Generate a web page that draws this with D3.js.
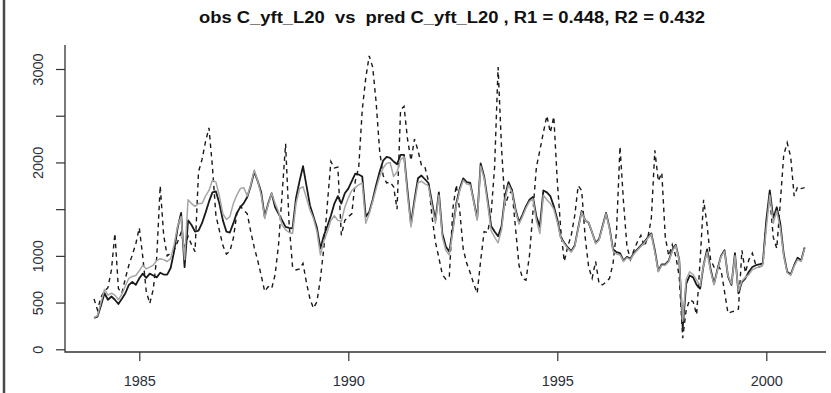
<!DOCTYPE html>
<html>
<head>
<meta charset="utf-8">
<script src="https://cdn.jsdelivr.net/npm/d3@7"></script>
<style>
  html, body { margin: 0; padding: 0; background: #fff; }
  svg { display: block; font-family: "Liberation Sans", Arial, sans-serif; }
</style>
</head>
<body>
<svg id="chart" width="831" height="393"></svg>
<script>
// Monthly series, first month = Dec 1983
const startYear = 1983 + 11 / 12;

const obs = [
  540, 420, 560, 620, 660, 850, 1240, 650, 600, 760, 900, 1010, 1130,
  1300, 990, 620, 490, 640, 980, 1750, 1220, 1000, 1030, 1060, 1150,
  1250, 1100, 1210, 1120, 1045, 1900, 2030, 2220, 2370, 1950, 1430, 1270,
  1110, 1020, 1050, 1190, 1450, 1530, 1490, 1450, 1260, 1090, 950, 790,
  620, 670, 650, 800, 1130, 1660, 2200, 1350, 880, 850, 860, 920,
  710, 540, 440, 510, 760, 1090, 1560, 2010, 1940, 1950, 1220, 1380,
  1420, 1450, 1800, 1950, 2560, 2900, 3140, 3020, 2640, 2120, 1860, 1780,
  1790, 1740, 1500, 2560, 2600, 2250, 2020, 2250, 2130, 1970, 1950, 1800,
  1430, 1150, 980, 800, 750, 780, 1500, 1760, 1480, 1070, 920, 820,
  700, 600, 950, 1260, 1250, 1450, 1950, 3020, 2150, 1540, 1650, 1700,
  1300, 900, 760, 740, 1000, 1470, 1950, 2130, 2320, 2500, 2320, 2490,
  1800, 1280, 940, 1100, 1220, 1430, 1750, 1700, 1200, 880, 760, 940,
  700, 690, 720, 760, 920, 1260, 2170, 1580, 1100, 960, 1060, 1150,
  1220, 1100, 1200, 1400, 2130, 1800, 1890, 1200, 1000, 1120, 1000, 780,
  120, 420, 530, 510, 370, 950, 1600, 1330, 960, 880, 900, 850,
  620, 385, 400, 410, 430, 1060, 820, 960, 1030, 900, 880, 900,
  1350, 1620, 1200, 1080, 1560, 2080, 2210, 2060, 1640, 1740, 1720, 1730
];

const pred1 = [
  335, 350, 470, 600, 530, 565, 530, 485, 540, 600, 690, 720, 690,
  760, 810, 765, 810, 790, 770, 820, 800, 800, 870, 1050, 1300,
  1460, 880, 1380, 1330, 1260, 1270, 1350, 1460, 1580, 1680, 1690, 1560,
  1380, 1260, 1250, 1350, 1460, 1520, 1565, 1630, 1750, 1900, 1800, 1680,
  1420, 1560, 1670, 1520, 1450, 1380, 1310, 1300, 1295, 1620, 1800, 1960,
  1750, 1540, 1420, 1300, 1080, 1220, 1320, 1430, 1560, 1640, 1560, 1670,
  1720, 1800, 1880, 1870, 1850, 1420, 1470, 1600, 1760, 1900, 2020, 2060,
  2050, 2010, 1980, 2080, 2080, 1700, 1340, 1600, 1830, 1860, 1820, 1780,
  1580, 1380, 1680, 1240, 1100, 1045, 1290, 1560, 1720, 1830, 1790, 1780,
  1590, 1400, 1990, 1850, 1600, 1320, 1260, 1210, 1320, 1640, 1790, 1700,
  1500, 1360, 1440, 1530, 1600, 1630, 1420, 1310, 1700, 1680, 1640, 1530,
  1390, 1200, 1140, 1090, 1050, 1110, 1300, 1480, 1380, 1355, 1250, 1140,
  1180, 1320, 1460, 1300, 1070, 1040, 1030, 950, 990, 970, 1030, 1070,
  1110, 1150, 1200, 1240, 1060, 840, 910, 910, 950, 1060, 1120, 960,
  230, 700, 790, 770, 690, 650, 900, 1070, 860, 700, 860, 1000,
  1060, 780, 690, 1030, 600, 720, 760, 830, 880, 900, 910, 920,
  1380, 1700, 1400, 1520, 1350, 1020, 830, 800, 900, 980, 950, 1090
];

const pred2 = [
  340, 360, 500, 640, 580, 600, 580, 530, 590, 680, 760, 780, 790,
  840, 900, 860, 880, 900, 950, 970, 960, 940, 970, 1120, 1320,
  1420, 960, 1600, 1560, 1530, 1560, 1560, 1640, 1700, 1810, 1790, 1640,
  1450, 1390, 1420, 1560, 1650, 1720, 1730, 1640, 1760, 1920, 1800, 1650,
  1400, 1550, 1670, 1560, 1470, 1330, 1280, 1250, 1240, 1560, 1720, 1740,
  1620, 1490, 1400, 1260, 1010, 1160, 1260, 1380, 1430, 1380, 1370, 1520,
  1620, 1700, 1730, 1760, 1780, 1350, 1450, 1580, 1720, 1850, 1940, 1990,
  2000, 1850, 1900, 2030, 2060, 1650, 1310, 1560, 1780, 1800, 1770, 1750,
  1540, 1350, 1650, 1200, 1060, 1010, 1260, 1540, 1700, 1810, 1770, 1760,
  1580, 1380, 1960, 1830, 1560, 1270, 1200, 1140, 1280, 1610, 1760, 1680,
  1480, 1340, 1420, 1510, 1580, 1610, 1380, 1240, 1650, 1600, 1560, 1500,
  1360, 1190, 1130, 1080, 1040, 1100, 1290, 1470, 1380, 1360, 1250, 1130,
  1170, 1310, 1450, 1290, 1050, 1020, 1010, 940, 980, 960, 1020, 1060,
  1100, 1140, 1190, 1230, 1040, 830, 900, 900, 940, 1050, 1110, 950,
  300, 750, 830, 800, 740, 680, 900, 1040, 840, 690, 850, 990,
  1050, 790, 700, 1000, 620, 730, 770, 800, 850, 870, 880, 900,
  1300, 1650, 1350, 1480, 1300, 1000, 820, 790, 890, 960, 940, 1080
];

const yTicks = [0, 500, 1000, 1500, 2000, 2500, 3000];
const yLabels = [0, 500, 1000, 2000, 3000];
const xTicks = [1985, 1990, 1995, 2000];
const titleText = "obs C_yft_L20  vs  pred C_yft_L20 , R1 = 0.448, R2 = 0.432";

const svg = d3.select("#chart");
const plot = { left: 65, right: 826, top: 45, bottom: 352 };

const x = d3.scaleLinear().domain([1985, 2000]).range([139.3, 766.3]);
const y = d3.scaleLinear().domain([0, 3000]).range([349.3, 69]);

svg.append("rect").attr("width", 831).attr("height", 393).attr("fill", "#fff");

// outer frame edge on the left
svg.append("line")
  .attr("x1", 4).attr("x2", 4).attr("y1", 0).attr("y2", 393)
  .attr("stroke", "#4a4a4a").attr("stroke-width", 2.5);

// title
svg.append("text")
  .attr("x", 452).attr("y", 23)
  .attr("text-anchor", "middle")
  .attr("font-weight", "bold")
  .attr("font-size", 16)
  .attr("textLength", 506)
  .attr("lengthAdjust", "spacingAndGlyphs")
  .attr("fill", "#111")
  .style("white-space", "pre")
  .text(titleText);

// L-shaped box
svg.append("path")
  .attr("d", `M${plot.left},${plot.top}V${plot.bottom}H${plot.right}`)
  .attr("fill", "none").attr("stroke", "#333").attr("stroke-width", 1.3);

// y axis
const yAxis = d3.axisLeft(y).tickValues(yTicks).tickSize(9)
  .tickFormat(d => yLabels.includes(d) ? d : "");
const gy = svg.append("g").attr("transform", `translate(${plot.left},0)`).call(yAxis);
gy.select(".domain").remove();
gy.selectAll(".tick line").attr("stroke", "#333").attr("stroke-width", 1.2);
gy.selectAll(".tick text")
  .attr("x", null).attr("dy", null)
  .attr("transform", "translate(-22,0) rotate(-90)")
  .attr("text-anchor", "middle")
  .attr("font-size", 14.5)
  .attr("fill", "#2c2f3a")
  .attr("font-family", "'Liberation Sans', Arial, sans-serif");

// x axis
const xAxis = d3.axisBottom(x).tickValues(xTicks).tickSize(9).tickFormat(d3.format("d"));
const gx = svg.append("g").attr("transform", `translate(0,${plot.bottom})`).call(xAxis);
gx.select(".domain").remove();
gx.selectAll(".tick line").attr("stroke", "#333").attr("stroke-width", 1.2);
gx.selectAll(".tick text")
  .attr("y", 34).attr("dy", null)
  .attr("font-size", 14.5)
  .attr("fill", "#2c2f3a")
  .attr("font-family", "'Liberation Sans', Arial, sans-serif");

const t = i => startYear + i / 12;
const line = d3.line().x((d, i) => x(t(i))).y(d => y(d));

// observed: dashed
svg.append("path").datum(obs)
  .attr("d", line).attr("fill", "none")
  .attr("stroke", "#1a1a1a").attr("stroke-width", 1.4)
  .attr("stroke-dasharray", "4.5,4");

// predicted 1: black
svg.append("path").datum(pred1)
  .attr("d", line).attr("fill", "none")
  .attr("stroke", "#1a1a1a").attr("stroke-width", 1.8)
  .attr("stroke-linejoin", "round");

// predicted 2: gray
svg.append("path").datum(pred2)
  .attr("d", line).attr("fill", "none")
  .attr("stroke", "#a6a6a6").attr("stroke-width", 1.5)
  .attr("stroke-linejoin", "round");
</script>
</body>
</html>
